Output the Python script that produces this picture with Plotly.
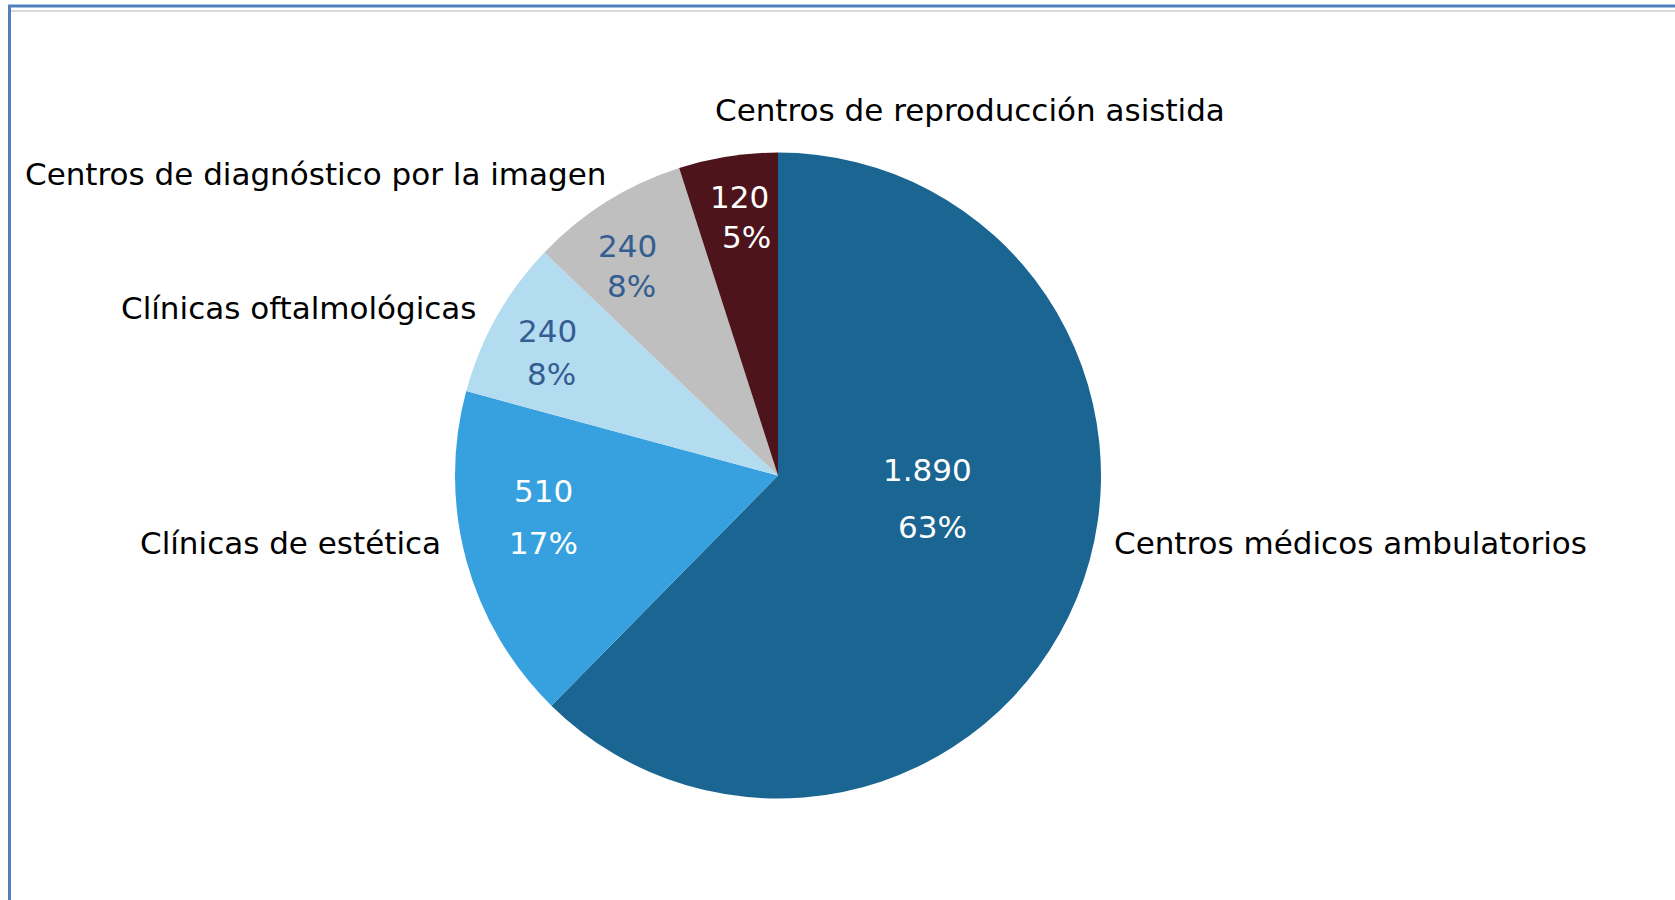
import plotly.graph_objects as go

# ---- data ----
categories = [
    "Centros médicos ambulatorios",
    "Clínicas de estética",
    "Clínicas oftalmológicas",
    "Centros de diagnóstico por la imagen",
    "Centros de reproducción asistida",
]
counts = [1890, 510, 240, 240, 120]
percents = [63, 17, 8, 8, 5]

# ---- styling ----
colors = ["#1A6591", "#37A0DE", "#B4DCF1", "#BFBFBF", "#4D151B"]
inner_text_colors = ["white", "white", "#345E91", "#345E91", "white"]
FONT = "Verdana, DejaVu Sans, sans-serif"
FS = 31
W, H = 1675, 900

def px(x):
    return x / W

def py(y):
    return 1 - y / H

# layout positions (pixels) for text
label_pos = [  # (x, y, xanchor)
    (1112, 543, "left"),
    (443, 543, "right"),
    (479, 308, "right"),
    (608, 174, "right"),
    (713, 110, "left"),
]
value_pos = [(927, 470), (543, 491), (547, 331), (627, 246), (739, 197)]
pct_pos = [(932, 527), (543, 543), (551, 374), (631, 286), (746, 237)]

cx, cy, r = 778, 475.5, 323

fig = go.Figure(
    go.Pie(
        labels=categories,
        values=percents,
        customdata=counts,
        sort=False,
        direction="clockwise",
        rotation=0,
        marker=dict(colors=colors, line=dict(width=0)),
        textinfo="none",
        hoverinfo="label+value+percent",
        showlegend=False,
        domain=dict(x=[px(cx - r), px(cx + r)], y=[py(cy + r), py(cy - r)]),
    )
)

annotations = []
for cat, (x, y, anc) in zip(categories, label_pos):
    annotations.append(dict(
        text=cat, x=px(x), y=py(y), xref="paper", yref="paper",
        xanchor=anc, yanchor="middle", showarrow=False,
        font=dict(family=FONT, size=FS, color="black"),
    ))
for v, p, col, (vx, vy), (qx, qy) in zip(counts, percents, inner_text_colors, value_pos, pct_pos):
    annotations.append(dict(
        text=f"{v:,}".replace(",", "."), x=px(vx), y=py(vy), xref="paper", yref="paper",
        xanchor="center", yanchor="middle", showarrow=False,
        font=dict(family=FONT, size=FS, color=col),
    ))
    annotations.append(dict(
        text=f"{p}%", x=px(qx), y=py(qy), xref="paper", yref="paper",
        xanchor="center", yanchor="middle", showarrow=False,
        font=dict(family=FONT, size=FS, color=col),
    ))

shapes = [
    # outer frame (blue) left and top
    dict(type="line", xref="paper", yref="paper", x0=px(9.5), x1=px(9.5), y0=py(6), y1=0,
         line=dict(color="#4F81BD", width=3)),
    dict(type="line", xref="paper", yref="paper", x0=px(8), x1=1, y0=py(6), y1=py(6),
         line=dict(color="#4F81BD", width=3)),
    # inner light grey line
    dict(type="line", xref="paper", yref="paper", x0=px(11), x1=1, y0=py(11), y1=py(11),
         line=dict(color="#DADADA", width=2)),
]

fig.update_layout(
    width=W, height=H,
    margin=dict(l=0, r=0, t=0, b=0),
    paper_bgcolor="white", plot_bgcolor="white",
    font=dict(family=FONT, size=FS),
    annotations=annotations,
    shapes=shapes,
)

fig.write_html(
    "out.html",
    config={"displayModeBar": False},
    post_script="document.body.style.margin='0';document.body.style.overflow='hidden';",
)
